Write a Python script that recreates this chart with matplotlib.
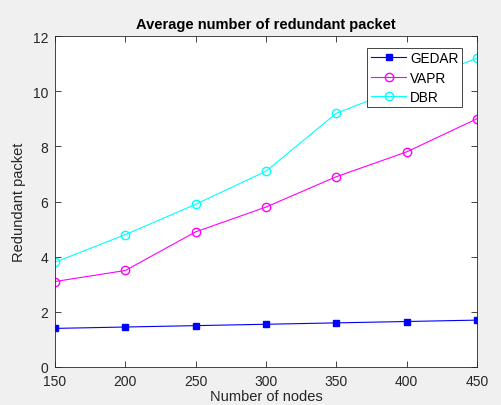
import matplotlib
matplotlib.use('Agg')
import matplotlib.pyplot as plt

plt.rcParams['font.family'] = ['Liberation Sans', 'DejaVu Sans']

nodes = [150, 200, 250, 300, 350, 400, 450]
gedar = [1.4, 1.45, 1.5, 1.55, 1.6, 1.65, 1.7]
vapr = [3.1, 3.5, 4.9, 5.8, 6.9, 7.8, 9.0]
dbr = [3.8, 4.8, 5.9, 7.1, 9.2, 10.2, 11.2]

fig = plt.figure(figsize=(5.01, 4.06), dpi=100, facecolor='#f0f0f0')
ax = fig.add_axes([0.1098, 0.0936, 0.842, 0.815])
ax.set_facecolor('white')

ax.plot(nodes, gedar, color='blue', marker='s', markersize=5, linewidth=0.8, label='GEDAR')
ax.plot(nodes, vapr, color='magenta', marker='o', markersize=6, markerfacecolor='none', linewidth=0.8, label='VAPR')
ax.plot(nodes, dbr, color='cyan', marker='o', markersize=6, markerfacecolor='none', linewidth=0.8, label='DBR')

ax.set_xlim(150, 450)
ax.set_ylim(0, 12)
ax.set_xticks([150, 200, 250, 300, 350, 400, 450])
ax.set_yticks([0, 2, 4, 6, 8, 10, 12])
ax.tick_params(direction='in', top=True, right=True, labelsize=10, colors='#262626', length=4, width=0.6, pad=5)
for s in ax.spines.values():
    s.set_color('#262626')
    s.set_linewidth(0.6)

ax.set_title('Average number of redundant packet', fontsize=10.5, fontweight='bold', pad=6)
ax.set_xlabel('Number of nodes', fontsize=10.5, color='#262626', labelpad=1)
ax.set_ylabel('Redundant packet', fontsize=10.5, color='#262626', labelpad=5)

leg = ax.legend(loc='upper right', bbox_to_anchor=(0.965, 0.965), fontsize=9.8, fancybox=False,
                framealpha=1, edgecolor='#262626', borderpad=0.25, labelspacing=0.4,
                handlelength=2.6, handletextpad=0.3, borderaxespad=0)
leg.get_frame().set_linewidth(0.6)

fig.savefig('out.png', dpi=100, facecolor=fig.get_facecolor())
